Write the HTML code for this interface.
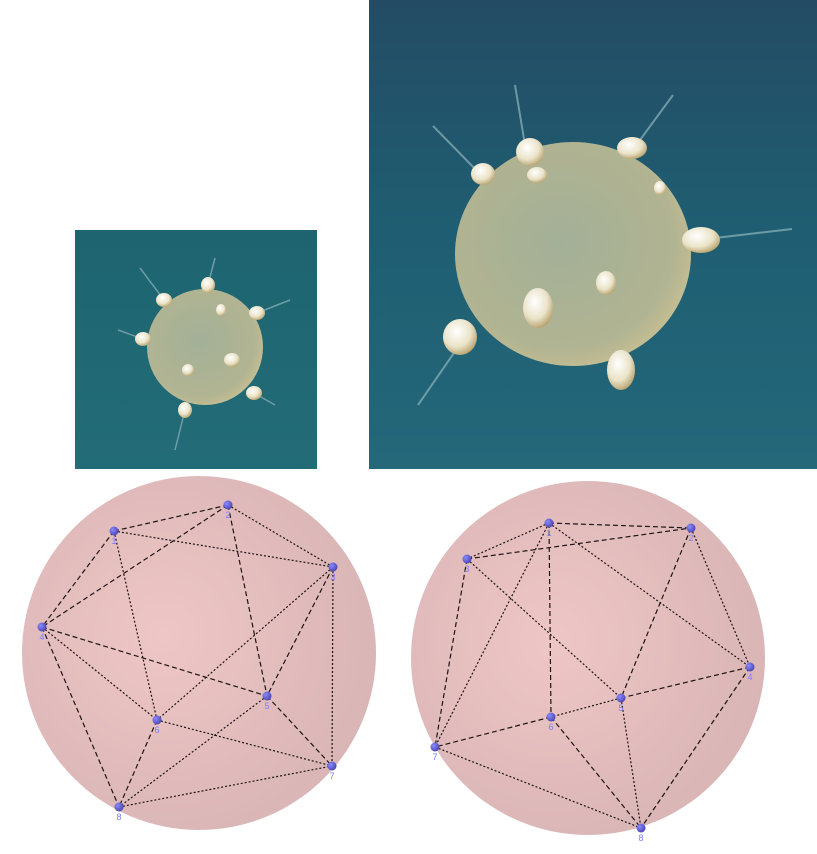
<!DOCTYPE html>
<html><head><meta charset="utf-8">
<style>
html,body{margin:0;padding:0;background:#fff;}
body{width:817px;height:854px;position:relative;overflow:hidden;font-family:"Liberation Sans",sans-serif;}
svg{position:absolute;left:0;top:0;}
</style></head>
<body>
<svg width="817" height="854" viewBox="0 0 817 854">
<defs>
  <linearGradient id="bgS" x1="0" y1="0" x2="0" y2="1">
    <stop offset="0" stop-color="#1d6470"/><stop offset="1" stop-color="#226c78"/>
  </linearGradient>
  <linearGradient id="bgL" x1="0" y1="0" x2="0" y2="1">
    <stop offset="0" stop-color="#234c64"/><stop offset="0.5" stop-color="#1f5e72"/><stop offset="1" stop-color="#24687a"/>
  </linearGradient>
  <radialGradient id="sph" cx="0.45" cy="0.45" r="0.6">
    <stop offset="0" stop-color="#aab49a"/><stop offset="0.8" stop-color="#b9b893"/><stop offset="1" stop-color="#d2c594"/>
  </radialGradient>
  <radialGradient id="nod" cx="0.4" cy="0.35" r="0.7">
    <stop offset="0" stop-color="#ffffff"/><stop offset="0.6" stop-color="#eae3c8"/><stop offset="1" stop-color="#b39d66"/>
  </radialGradient>
  <radialGradient id="pink" cx="0.4" cy="0.45" r="0.65">
    <stop offset="0" stop-color="#efc6c6"/><stop offset="1" stop-color="#d8b4b4"/>
  </radialGradient>
  <radialGradient id="pt" cx="0.35" cy="0.35" r="0.7">
    <stop offset="0" stop-color="#8a8aff"/><stop offset="1" stop-color="#4a44b0"/>
  </radialGradient>
</defs>

<g>
  <rect x="75" y="230" width="242" height="239" fill="url(#bgS)"/>
  <g stroke="#8fb5bb" stroke-width="1.5" opacity="0.7">
    <line x1="164" y1="300" x2="140" y2="268"/><line x1="208" y1="285" x2="215" y2="258"/>
    <line x1="257" y1="313" x2="290" y2="300"/><line x1="143" y1="339" x2="118" y2="330"/>
    <line x1="185" y1="410" x2="175" y2="450"/><line x1="254" y1="393" x2="275" y2="405"/>
  </g>
  <circle cx="205" cy="347" r="58" fill="url(#sph)" opacity="0.95"/>
  <g fill="url(#nod)">
    <ellipse cx="164" cy="300" rx="8" ry="7"/><ellipse cx="208" cy="285" rx="7" ry="8"/>
    <ellipse cx="257" cy="313" rx="8" ry="7"/><ellipse cx="143" cy="339" rx="8" ry="7"/>
    <ellipse cx="232" cy="360" rx="8" ry="7"/><ellipse cx="188" cy="370" rx="6" ry="6"/>
    <ellipse cx="254" cy="393" rx="8" ry="7"/><ellipse cx="185" cy="410" rx="7" ry="8"/>
    <ellipse cx="221" cy="310" rx="5" ry="6"/>
  </g>
</g>

<g>
  <rect x="369" y="0" width="448" height="469" fill="url(#bgL)"/>
  <g stroke="#8fb5bb" stroke-width="2" opacity="0.7">
    <line x1="483" y1="177" x2="433" y2="126"/><line x1="525" y1="145" x2="515" y2="85"/>
    <line x1="640" y1="140" x2="673" y2="95"/><line x1="715" y1="238" x2="792" y2="229"/>
    <line x1="456" y1="350" x2="418" y2="405"/>
  </g>
  <ellipse cx="573" cy="254" rx="118" ry="112" fill="url(#sph)" opacity="0.95"/>
  <g fill="url(#nod)">
    <ellipse cx="530" cy="152" rx="14" ry="14"/><ellipse cx="483" cy="174" rx="12" ry="11"/>
    <ellipse cx="632" cy="148" rx="15" ry="11"/><ellipse cx="660" cy="188" rx="6" ry="7"/>
    <ellipse cx="701" cy="240" rx="19" ry="13"/><ellipse cx="538" cy="308" rx="15" ry="20"/>
    <ellipse cx="606" cy="283" rx="10" ry="12"/><ellipse cx="460" cy="337" rx="17" ry="18"/>
    <ellipse cx="621" cy="370" rx="14" ry="20"/><ellipse cx="537" cy="175" rx="10" ry="8"/>
  </g>
</g>

<g id="diagA"></g>
<g id="diagB"></g>
</svg>

<script>
const NS = "http://www.w3.org/2000/svg";
const leftPoints = [[114,531],[228,505],[333,567],[42,627],[267,696],[157,720],[332,766],[119,807]];
const leftLabels = ["1","2","3","4","5","6","7","8"];
const leftEdges = [[0,1],[0,2],[0,3],[0,5],[1,3],[1,2],[1,4],[2,5],[2,4],[2,6],[3,4],[3,5],[3,7],[5,6],[5,7],[4,7],[4,6],[7,6]];
const rightPoints = [[549,523],[691,528],[467,559],[750,667],[621,698],[551,717],[435,747],[641,828]];
const rightLabels = ["1","2","3","4","5","6","7","8"];
const rightEdges = [[0,1],[0,2],[2,1],[0,3],[0,5],[0,6],[2,6],[2,4],[1,4],[1,3],[3,4],[4,5],[5,6],[6,7],[5,7],[4,7],[3,7]];

function draw(gid, cx, cy, r, pts, labels, edges){
  const g = document.getElementById(gid);
  const c = document.createElementNS(NS,"circle");
  
  
  c.setAttribute("cx",cx);c.setAttribute("cy",cy);c.setAttribute("r",r);c.setAttribute("fill","url(#pink)");
  g.appendChild(c);
  edges.forEach((e,i)=>{
    const l = document.createElementNS(NS,"line");
    
    
    l.setAttribute("x1",pts[e[0]][0]);l.setAttribute("y1",pts[e[0]][1]);
    l.setAttribute("x2",pts[e[1]][0]);l.setAttribute("y2",pts[e[1]][1]);
    l.setAttribute("stroke","#1e1414");l.setAttribute("stroke-width","1.2");
    l.setAttribute("stroke-dasharray", i%2 ? "2,2" : "5,3");
    g.appendChild(l);
  });
  pts.forEach((p,i)=>{
    const d = document.createElementNS(NS,"circle");
    
    
    d.setAttribute("cx",p[0]);d.setAttribute("cy",p[1]);d.setAttribute("r","4.5");d.setAttribute("fill","url(#pt)");
    g.appendChild(d);
    const t = document.createElementNS(NS,"text");
    
    
    t.setAttribute("x",p[0]);t.setAttribute("y",p[1]+13);t.setAttribute("text-anchor","middle");
    t.setAttribute("font-size","9");t.setAttribute("fill","#7b7bff");
    t.setAttribute("font-family","Liberation Sans, sans-serif");
    t.textContent = labels[i];
    g.appendChild(t);
  });
}
draw("diagA",199,653,177,leftPoints,leftLabels,leftEdges);
draw("diagB",588,658,177,rightPoints,rightLabels,rightEdges);
</script>
</body></html>
